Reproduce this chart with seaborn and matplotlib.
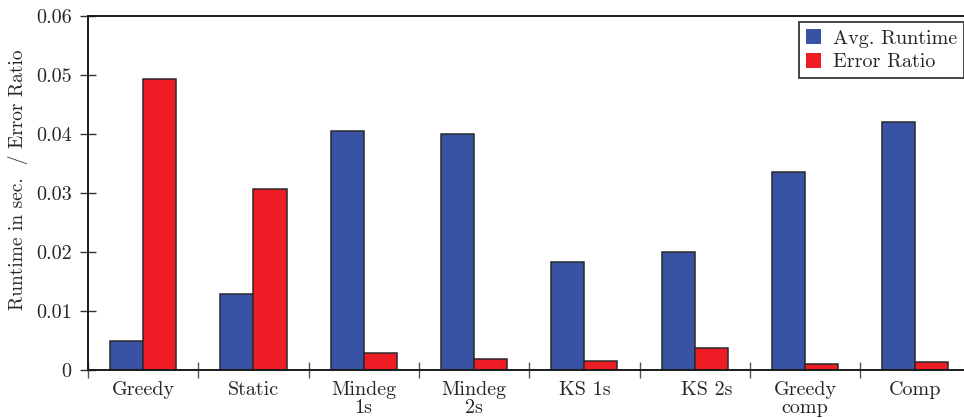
import matplotlib
matplotlib.use("Agg")
import matplotlib.pyplot as plt
import matplotlib.transforms as mtransforms
from matplotlib.ticker import FixedLocator, FuncFormatter
from matplotlib.patches import Patch
import pandas as pd
import seaborn as sns

# Benchmark results per heuristic
methods = ["Greedy", "Static", "Mindeg\n1s", "Mindeg\n2s", "KS 1s", "KS 2s",
           "Greedy\ncomp", "Comp"]
avg_runtime = [0.0049, 0.0128, 0.0406, 0.0401, 0.0183, 0.0200, 0.0336, 0.0420]
error_ratio = [0.0494, 0.0307, 0.0029, 0.0019, 0.0014, 0.0037, 0.0010, 0.0013]
series_names = ["Avg. Runtime", "Error Ratio"]
series_colors = ["#3853a4", "#ee1d25"]
y_ticks = [0.0, 0.01, 0.02, 0.03, 0.04, 0.05, 0.06]

df = pd.DataFrame({
    "method": methods * 2,
    "value": avg_runtime + error_ratio,
    "series": [series_names[0]] * len(methods) + [series_names[1]] * len(methods),
})

sns.set_theme(style="white")
plt.rcParams["font.family"] = ["cmr10", "DejaVu Serif"]
plt.rcParams["axes.formatter.use_mathtext"] = True
text_color = "#262626"
fs = 14.5

fig = plt.figure(figsize=(9.64, 4.18), dpi=100)
ax = fig.add_axes([88 / 964, 48.3 / 418, 882.4 / 964, 353.4 / 418])

sns.barplot(data=df, x="method", y="value", hue="series", order=methods,
            hue_order=series_names, palette=series_colors, width=0.6,
            edgecolor="#2a2a2a", linewidth=1.1, saturation=1, ax=ax,
            legend=False)

ax.set_xlim(-0.5, len(methods) - 0.5)
ax.set_ylim(0, 0.06)
ax.set_xlabel("")
ax.set_ylabel("Runtime in sec.  / Error Ratio", fontsize=14, color=text_color)
ax.yaxis.set_label_coords(-0.068, 0.537)

# y axis
ax.yaxis.set_major_locator(FixedLocator(y_ticks))
ax.yaxis.set_major_formatter(FuncFormatter(lambda v, p: "0" if v == 0 else f"{v:.2f}"))
ax.tick_params(axis="y", direction="inout", length=11.5, width=1.0,
               color="#333333", labelsize=fs, labelcolor=text_color, pad=6,
               left=True)

# x axis: labels at category centres, separators between categories
ax.tick_params(axis="x", which="major", length=0, pad=8, labelsize=fs,
               labelcolor=text_color)
ax.set_xticks([i - 0.5 for i in range(len(methods) + 1)], minor=True)
ax.tick_params(axis="x", which="minor", direction="inout", length=11.5,
               width=1.0, color="#555555", bottom=True)
for lbl in ax.get_xticklabels():
    lbl.set_linespacing(1.0)
    if lbl.get_text() == "KS 2s":
        lbl.set_transform(lbl.get_transform() +
                          mtransforms.ScaledTranslation(12 / 100, 0, fig.dpi_scale_trans))

for side in ["left", "bottom", "top", "right"]:
    ax.spines[side].set_color("#1a1a1a")
    ax.spines[side].set_linewidth(1.4)

handles = [Patch(facecolor=c, edgecolor="none") for c in series_colors]
leg = ax.legend(handles, series_names, loc="upper right", bbox_to_anchor=(1, 1),
                fontsize=fs, frameon=True, fancybox=False, edgecolor="#262626",
                framealpha=1, borderpad=0.35, labelspacing=0.25,
                handlelength=0.75, handleheight=0.75, handletextpad=0.6,
                borderaxespad=0.3)
leg.get_frame().set_linewidth(1.2)
for t in leg.get_texts():
    t.set_color(text_color)

fig.savefig("out.png", dpi=100)
